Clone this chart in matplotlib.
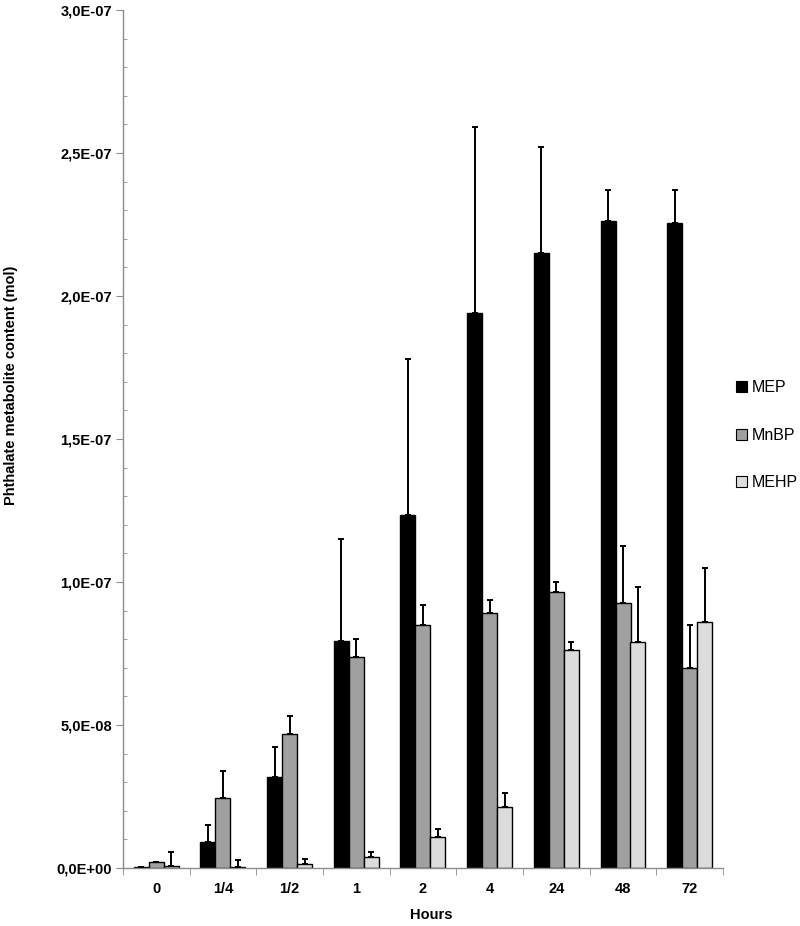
import matplotlib
matplotlib.use("Agg")
import matplotlib.pyplot as plt
import numpy as np
from matplotlib.patches import Patch
from matplotlib.ticker import MultipleLocator, FuncFormatter

categories = ["0", "1/4", "1/2", "1", "2", "4", "24", "48", "72"]
series_names = ["MEP", "MnBP", "MEHP"]

mep = [0.2e-9, 9.0e-9, 3.19e-8, 7.94e-8, 1.234e-7, 1.94e-7, 2.15e-7, 2.263e-7, 2.256e-7]
mep_err = [0.0, 6.0e-9, 1.03e-8, 3.56e-8, 5.46e-8, 6.5e-8, 3.7e-8, 1.07e-8, 1.14e-8]

mnbp = [2.0e-9, 2.44e-8, 4.7e-8, 7.38e-8, 8.5e-8, 8.92e-8, 9.65e-8, 9.27e-8, 7.0e-8]
mnbp_err = [0.0, 9.5e-9, 6.3e-9, 6.2e-9, 7.0e-9, 4.5e-9, 3.5e-9, 2.0e-8, 1.5e-8]

mehp = [0.7e-9, 0.3e-9, 1.4e-9, 3.95e-9, 1.08e-8, 2.13e-8, 7.62e-8, 7.9e-8, 8.6e-8]
mehp_err = [5.0e-9, 2.4e-9, 1.6e-9, 1.55e-9, 2.8e-9, 4.8e-9, 2.8e-9, 1.93e-8, 1.9e-8]

values = [mep, mnbp, mehp]
errors = [mep_err, mnbp_err, mehp_err]
colors = ["#000000", "#a0a0a0", "#dcdcdc"]

plt.rcParams['font.family'] = ['Liberation Sans', 'DejaVu Sans']

fig = plt.figure(figsize=(8.0, 9.26), dpi=100)
ax = fig.add_axes([123/800, 1-868/926, 600/800, 858/926])

x = np.arange(len(categories))
w = 0.225
offsets = [-w, 0, w]
for vals, errs, col, off, name in zip(values, errors, colors, offsets, series_names):
    ax.bar(x + off, vals, width=w, color=col, edgecolor="black", linewidth=1.0,
           label=name, zorder=2)
    ax.errorbar(x + off, vals, yerr=[np.zeros(len(errs)), errs], fmt="none",
                ecolor="black", elinewidth=1.4, capsize=2.3, capthick=1.4, zorder=3)

ax.set_xlim(-0.5, len(categories) - 0.5)
ax.set_ylim(0, 3.0e-7)

ax.yaxis.set_major_locator(MultipleLocator(5e-8))
ax.yaxis.set_minor_locator(MultipleLocator(1e-8))
def fmt(v, pos):
    s = "%.1E" % v
    mant, exp = s.split("E")
    e = int(exp)
    return mant.replace(".", ",") + "E" + ("+" if e >= 0 else "-") + "%02d" % abs(e)
ax.yaxis.set_major_formatter(FuncFormatter(fmt))

ax.set_xticks(x)
ax.set_xticklabels(categories)
ax.set_xticks(np.arange(-0.5, len(categories)), minor=True)

for s in ["top", "right"]:
    ax.spines[s].set_visible(False)
for s in ["left", "bottom"]:
    ax.spines[s].set_color("#8c8c8c")
    ax.spines[s].set_linewidth(1.0)

ax.tick_params(axis="y", which="major", direction="out", length=5, color="#8c8c8c",
               labelsize=10.5, pad=3)
ax.tick_params(axis="y", which="minor", direction="in", length=3, color="#8c8c8c")
ax.tick_params(axis="x", which="major", length=0, labelsize=10.5, pad=10)
ax.tick_params(axis="x", which="minor", direction="out", length=5, color="#8c8c8c")
for lab in ax.get_xticklabels() + ax.get_yticklabels():
    lab.set_fontweight("bold")

fig.text(431/800, 1-915/926, "Hours", fontsize=10.5, fontweight="bold",
         ha="center", va="center")
fig.text(11/800, 1-385/926, "Phthalate metabolite content (mol)", fontsize=10.5,
         fontweight="bold", rotation=90, ha="center", va="center")

handles = [Patch(facecolor=c, edgecolor="black", linewidth=0.8) for c in colors]
fig.legend(handles, series_names, loc="upper left", bbox_to_anchor=(736/800, 1-380/926),
           frameon=False, fontsize=11.5, handlelength=0.7, handleheight=0.7,
           handletextpad=0.3, labelspacing=2.05, borderaxespad=0, borderpad=0)

fig.savefig("out.png", dpi=100)
